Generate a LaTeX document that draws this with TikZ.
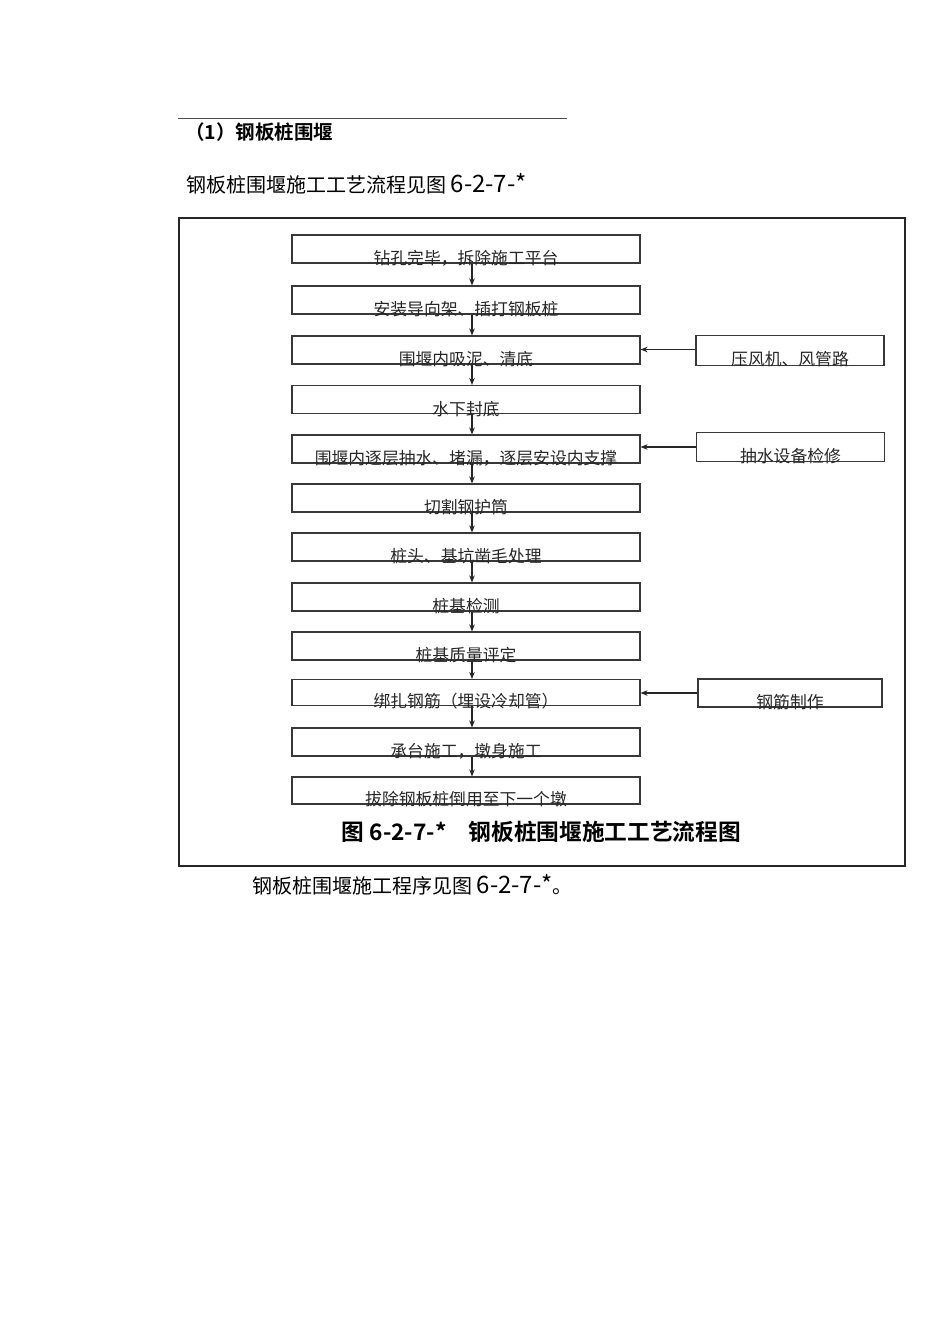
\documentclass[tikz,border=0pt]{standalone}
\usepackage{fontspec}
\setmainfont{Noto Sans CJK SC}
\newfontfamily\cjkb{Noto Sans CJK SC Bold}
\usetikzlibrary{arrows.meta}
\tikzset{
  x=1pt,y=-1pt,
  mainbox/.style={draw=black!78,line width=1.1pt,minimum width=348pt,minimum height=28pt,inner sep=0pt},
  sidebox/.style={draw=black!78,line width=1.1pt,minimum width=188pt,minimum height=30pt,inner sep=0pt},
  boxtxt/.style={inner sep=0pt,font=\fontsize{16.8}{17}\selectfont,text=black!85},
  flow/.style={draw=black!85,line width=1.1pt,-{Stealth[length=7pt,width=5.5pt]}},
}
\begin{document}
\begin{tikzpicture}
\useasboundingbox (0,0) rectangle (950,1344);
\fill[white] (0,0) rectangle (950,1344);
% header
\coordinate (r1) at (178,118);
\coordinate (r2) at (567,118);
\draw[black!70,line width=0.9pt] (r1) -- (r2);
\node[anchor=west,inner sep=0pt,font=\cjkb\fontsize{19.5}{20}\selectfont] (h1) at (185,132) {（1）钢板桩围堰};
\node[anchor=west,inner sep=0pt,font=\fontsize{20}{20}\selectfont] (h2) at (186,184) {钢板桩围堰施工工艺流程见图 {\fontsize{24}{24}\selectfont 6-2-7-*}};
% frame
\node[draw=black!85,line width=2pt,minimum width=726pt,minimum height=648pt,inner sep=0pt] (frame) at (542,542) {};
% main boxes
\node[mainbox] (b1) at (466,249) {};
\node[mainbox] (b2) at (466,300) {};
\node[mainbox] (b3) at (466,350) {};
\node[mainbox] (b4) at (466,399.5) {};
\node[mainbox] (b5) at (466,449) {};
\node[mainbox] (b6) at (466,498) {};
\node[mainbox] (b7) at (466,547) {};
\node[mainbox] (b8) at (466,597) {};
\node[mainbox] (b9) at (466,646) {};
\node[mainbox,minimum height=26pt] (b10) at (466,692.5) {};
\node[mainbox] (b11) at (466,742) {};
\node[mainbox,minimum height=27pt] (b12) at (466,790.5) {};
\node[boxtxt] (t1) at ([yshift=5pt]b1.south) {钻孔完毕，拆除施工平台};
\node[boxtxt] (t2) at ([yshift=5pt]b2.south) {安装导向架、插打钢板桩};
\node[boxtxt] (t3) at ([yshift=5pt]b3.south) {围堰内吸泥、清底};
\node[boxtxt] (t4) at ([yshift=5pt]b4.south) {水下封底};
\node[boxtxt] (t5) at ([yshift=5pt]b5.south) {围堰内逐层抽水、堵漏，逐层安设内支撑};
\node[boxtxt] (t6) at ([yshift=5pt]b6.south) {切割钢护筒};
\node[boxtxt] (t7) at ([yshift=5pt]b7.south) {桩头、基坑凿毛处理};
\node[boxtxt] (t8) at ([yshift=5pt]b8.south) {桩基检测};
\node[boxtxt] (t9) at ([yshift=5pt]b9.south) {桩基质量评定};
\node[boxtxt] (t10) at ([yshift=5pt]b10.south) {绑扎钢筋（埋设冷却管）};
\node[boxtxt] (t11) at ([yshift=5pt]b11.south) {承台施工，墩身施工};
\node[boxtxt] (t12) at ([yshift=5pt]b12.south) {拔除钢板桩倒用至下一个墩};
% side boxes
\node[sidebox] (s1) at (790,350.5) {};
\node[sidebox,minimum height=29pt] (s2) at (790.5,447) {};
\node[sidebox,minimum width=184pt,minimum height=28pt] (s3) at (790,693) {};
\node[boxtxt] (u1) at ([yshift=7pt]s1.south) {压风机、风管路};
\node[boxtxt] (u2) at ([yshift=6pt]s2.south) {抽水设备检修};
\node[boxtxt] (u3) at ([yshift=5pt]s3.south) {钢筋制作};
% arrows
\foreach \a/\b in {b1/b2,b2/b3,b3/b4,b4/b5,b5/b6,b6/b7,b7/b8,b8/b9,b9/b10,b10/b11,b11/b12}
  \draw[flow] ([xshift=6pt]\a.south) -- ([xshift=6pt]\b.north);
\draw[flow] ([yshift=1pt]s1.west) -- ([yshift=1pt]s1.west -| b3.east);
\draw[flow] (s2.west) -- (s2.west -| b5.east);
\draw[flow] (s3.west) -- (s3.west -| b10.east);
% caption
\node[inner sep=0pt,font=\cjkb\fontsize{22.7}{23}\selectfont] (cap) at (541.5,832) {图 6-2-7-*\hspace{22pt}钢板桩围堰施工工艺流程图};
\node[anchor=west,inner sep=0pt,font=\fontsize{20}{20}\selectfont] (foot) at (252,885) {钢板桩围堰施工程序见图 {\fontsize{24}{24}\selectfont 6-2-7-*}。};
\end{tikzpicture}
\end{document}
